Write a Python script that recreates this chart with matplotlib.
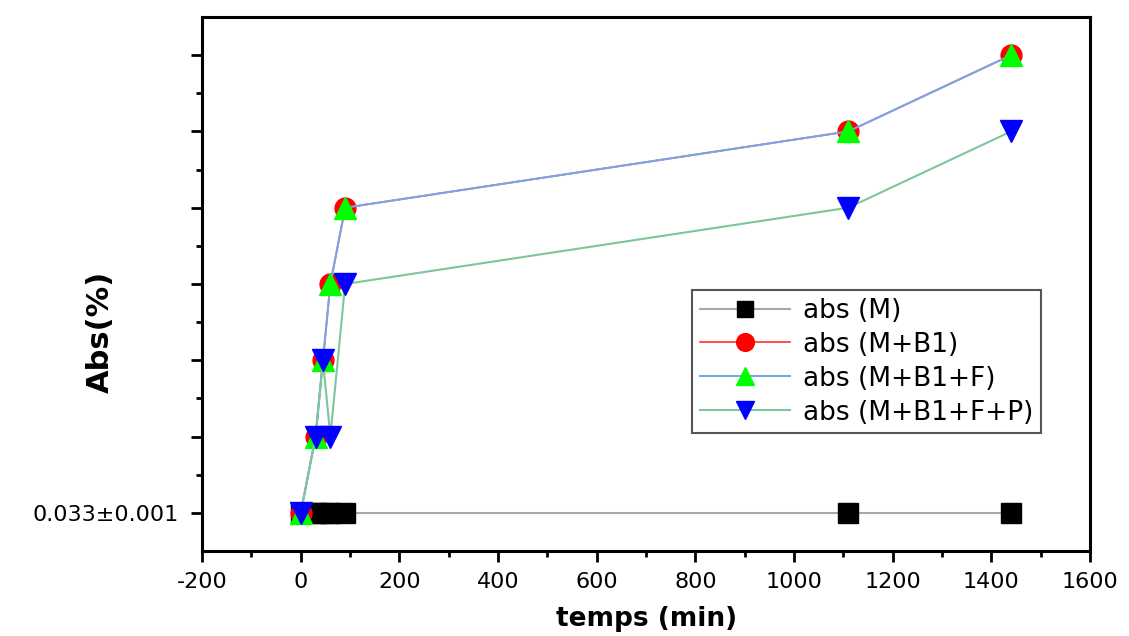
import matplotlib.pyplot as plt
from matplotlib.ticker import MultipleLocator, FixedLocator

plt.rcParams['font.family'] = ['DejaVu Sans']
plt.rcParams['axes.unicode_minus'] = False

# Time points (min)
t = [0, 30, 45, 60, 90, 1110, 1440]

# Absorption, in y-axis grid steps above the 0.033 baseline
abs_m = [0, 0, 0, 0, 0, 0, 0]
abs_mb1 = [0, 1, 2, 3, 4, 5, 6]
abs_mb1f = [0, 1, 2, 3, 4, 5, 6]
abs_mb1fp = [0, 1, 2, 1, 3, 4, 5]

fig = plt.figure(figsize=(11.29, 6.36), dpi=100)
ax = fig.add_axes([0.179, 0.1336, 0.7865, 0.8397])

ax.plot(t, abs_m, color='#a8a8a8', lw=1.5, marker='s', ms=14, mfc='black', mec='black', label='abs (M)')
ax.plot(t, abs_mb1, color='#ff3030', lw=1.2, marker='o', ms=15, mfc='red', mec='red', label='abs (M+B1)')
ax.plot(t, abs_mb1f, color='#79a6e6', lw=1.5, marker='^', ms=16, mfc='#00ff00', mec='#00ff00', label='abs (M+B1+F)')
ax.plot(t, abs_mb1fp, color='#7cc79b', lw=1.5, marker='v', ms=16, mfc='blue', mec='blue', label='abs (M+B1+F+P)')

ax.set_xlim(-200, 1600)
ax.set_ylim(-0.5, 6.5)
ax.xaxis.set_major_locator(MultipleLocator(200))
ax.xaxis.set_minor_locator(MultipleLocator(100))
ax.yaxis.set_major_locator(FixedLocator([0, 1, 2, 3, 4, 5, 6]))
ax.yaxis.set_minor_locator(FixedLocator([0.5, 1.5, 2.5, 3.5, 4.5, 5.5]))
ax.set_yticklabels(['0.033±0.001', '', '', '', '', '', ''])

for s in ax.spines.values():
    s.set_linewidth(2.2)
ax.tick_params(which='major', direction='out', length=8, width=2, labelsize=16)
ax.tick_params(which='minor', direction='out', length=4.5, width=2)
ax.tick_params(axis='x', pad=7)
ax.tick_params(axis='y', pad=9)
ax.tick_params(top=False, right=False, which='both')

ax.set_xlabel('temps (min)', fontsize=19, fontweight='bold')
ax.xaxis.set_label_coords(0.5, -0.103)
ax.set_ylabel('Abs(%)', fontsize=22, fontweight='bold')
ax.yaxis.set_label_coords(-0.098, 0.41)

leg = ax.legend(loc='upper left', bbox_to_anchor=(0.552, 0.489), borderaxespad=0,
                fontsize=19, handlelength=3.4, handletextpad=0.5, labelspacing=0.3,
                borderpad=0.3, fancybox=False, framealpha=1, edgecolor='#555555',
                markerscale=0.85)
leg.get_frame().set_linewidth(1.5)

fig.savefig('out.png', dpi=100)
